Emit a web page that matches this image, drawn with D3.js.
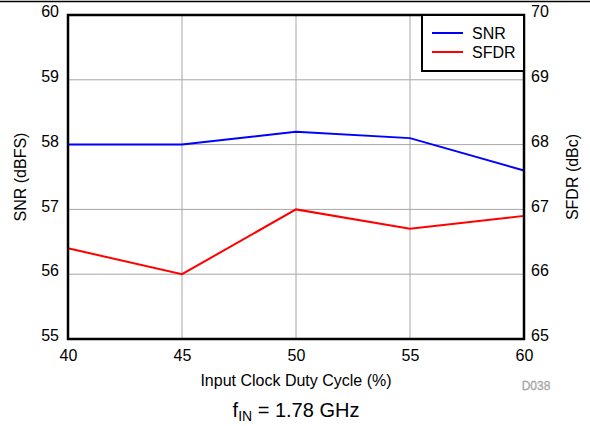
<!DOCTYPE html>
<html>
<head>
<meta charset="utf-8">
<script src="https://cdn.jsdelivr.net/npm/d3@7"></script>
<style>
  html, body { margin: 0; padding: 0; background: #fff; }
  svg { display: block; font-family: "Liberation Sans", Arial, sans-serif; }
</style>
</head>
<body>
<svg id="chart" width="590" height="426"></svg>
<script>
// Duty cycle sweep (%) and measured performance
const dutyCycle = [40, 45, 50, 55, 60];
const snr = [58.0, 58.0, 58.2, 58.1, 57.6];   // dBFS, left axis
const sfdr = [66.4, 66.0, 67.0, 66.7, 66.9];  // dBc, right axis

const xTicks = [40, 45, 50, 55, 60];
const snrTicks = [55, 56, 57, 58, 59, 60];
const sfdrTicks = [65, 66, 67, 68, 69, 70];

const seriesNames = ["SNR", "SFDR"];
const seriesColors = ["#0000ff", "#ff0000"];

const svg = d3.select("#chart");
const m = { left: 68, right: 524, top: 15, bottom: 339 };

const x = d3.scaleLinear().domain([40, 60]).range([m.left, m.right]);
const yL = d3.scaleLinear().domain([55, 60]).range([m.bottom, m.top]);
const yR = d3.scaleLinear().domain([65, 70]).range([m.bottom, m.top]);

// page rule at the very top
svg.append("line")
  .attr("x1", 0).attr("x2", 590).attr("y1", 1.5).attr("y2", 1.5)
  .attr("stroke", "#000").attr("stroke-width", 1.5);

// grid
const grid = svg.append("g").attr("stroke", "#a6a6a6").attr("stroke-width", 1);
grid.selectAll(".gx").data(xTicks.slice(1, -1)).enter().append("line")
  .attr("x1", d => x(d)).attr("x2", d => x(d))
  .attr("y1", m.top).attr("y2", m.bottom);
grid.selectAll(".gy").data(snrTicks.slice(1, -1)).enter().append("line")
  .attr("x1", m.left).attr("x2", m.right)
  .attr("y1", d => yL(d)).attr("y2", d => yL(d));

// series lines
const lineL = d3.line().x((d, i) => x(dutyCycle[i])).y(d => yL(d));
const lineR = d3.line().x((d, i) => x(dutyCycle[i])).y(d => yR(d));
svg.append("path").attr("d", lineL(snr))
  .attr("fill", "none").attr("stroke", seriesColors[0]).attr("stroke-width", 2);
svg.append("path").attr("d", lineR(sfdr))
  .attr("fill", "none").attr("stroke", seriesColors[1]).attr("stroke-width", 2);

// frame
svg.append("rect")
  .attr("x", m.left).attr("y", m.top)
  .attr("width", m.right - m.left).attr("height", m.bottom - m.top)
  .attr("fill", "none").attr("stroke", "#000").attr("stroke-width", 2.5);

// axes (labels only; frame draws the spines)
const fmt = d3.format("d");
const xAxis = svg.append("g").attr("transform", `translate(0,${m.bottom})`)
  .call(d3.axisBottom(x).tickValues(xTicks).tickFormat(fmt).tickSize(0).tickPadding(11));
const leftAxis = svg.append("g").attr("transform", `translate(${m.left},0)`)
  .call(d3.axisLeft(yL).tickValues(snrTicks).tickFormat(fmt).tickSize(0).tickPadding(9));
const rightAxis = svg.append("g").attr("transform", `translate(${m.right},0)`)
  .call(d3.axisRight(yR).tickValues(sfdrTicks).tickFormat(fmt).tickSize(0).tickPadding(7));
[xAxis, leftAxis, rightAxis].forEach(g => {
  g.select(".domain").remove();
  g.selectAll("text").attr("font-size", 16).attr("fill", "#000")
    .attr("font-family", "'Liberation Sans', Arial, sans-serif");
});
leftAxis.selectAll("text").attr("dy", "0.1em");
rightAxis.selectAll("text").attr("dy", "0.1em");

// axis titles
svg.append("text")
  .attr("transform", `translate(26,${(m.top + m.bottom) / 2}) rotate(-90)`)
  .attr("text-anchor", "middle").attr("font-size", 16).text("SNR (dBFS)");
svg.append("text")
  .attr("transform", `translate(578,${(m.top + m.bottom) / 2}) rotate(-90)`)
  .attr("text-anchor", "middle").attr("font-size", 16).text("SFDR (dBc)");
svg.append("text")
  .attr("x", (m.left + m.right) / 2).attr("y", 386)
  .attr("text-anchor", "middle").attr("font-size", 16).text("Input Clock Duty Cycle (%)");

// condition caption
const cap = svg.append("text")
  .attr("x", (m.left + m.right) / 2).attr("y", 417)
  .attr("text-anchor", "middle").attr("font-size", 20);
cap.append("tspan").text("f");
cap.append("tspan").attr("font-size", 14).attr("dy", 4).text("IN");
cap.append("tspan").attr("dy", -4).text(" = 1.78 GHz");

// figure id
svg.append("text")
  .attr("x", 536).attr("y", 390).attr("text-anchor", "middle")
  .attr("font-size", 12).attr("fill", "#b0b0b0").attr("stroke", "#999")
  .attr("stroke-width", 0.3).text("D038");

// legend
const lg = svg.append("g");
lg.append("rect")
  .attr("x", 422).attr("y", m.top).attr("width", m.right - 422).attr("height", 56)
  .attr("fill", "#fff").attr("stroke", "#000").attr("stroke-width", 2);
seriesNames.forEach((name, i) => {
  const yy = 33 + i * 19;
  lg.append("line").attr("x1", 432).attr("x2", 463).attr("y1", yy).attr("y2", yy)
    .attr("stroke", seriesColors[i]).attr("stroke-width", 2);
  lg.append("text").attr("x", 472).attr("y", yy + 6)
    .attr("font-size", 16).text(name);
});
</script>
</body>
</html>
